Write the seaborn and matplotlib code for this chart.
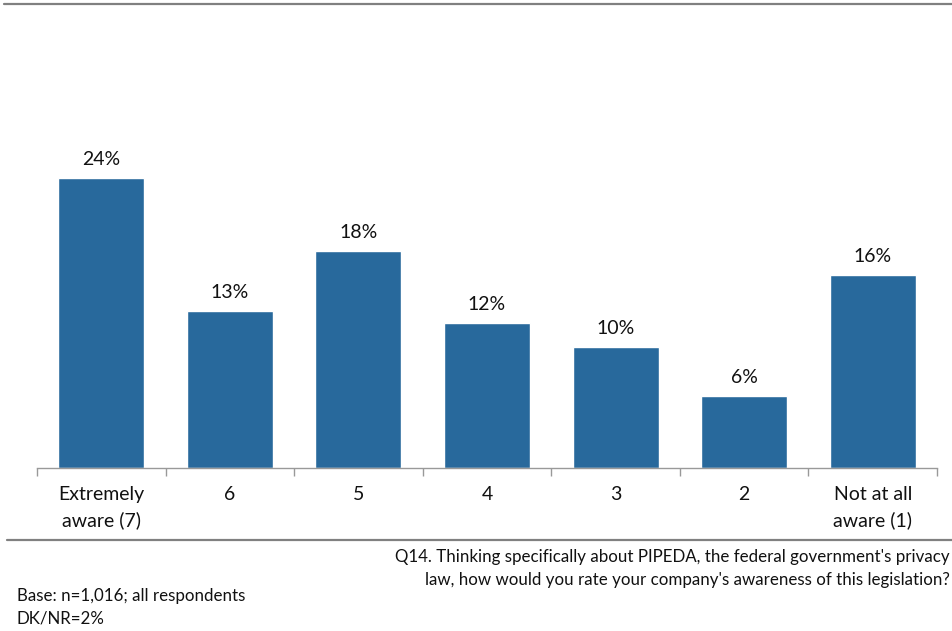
import matplotlib
matplotlib.use("Agg")
import matplotlib.pyplot as plt
import seaborn as sns
import pandas as pd
from matplotlib.lines import Line2D

# Survey responses: awareness of PIPEDA (7-point scale)
categories = ["Extremely\naware (7)", "6", "5", "4", "3", "2", "Not at all\naware (1)"]
percent = [24, 13, 18, 12, 10, 6, 16]
value_labels = ["24%", "13%", "18%", "12%", "10%", "6%", "16%"]

question = ("Q14. Thinking specifically about PIPEDA, the federal government's privacy\n"
            "law, how would you rate your company's awareness of this legislation?")
base_note = "Base: n=1,016; all respondents\nDK/NR=2%"

sns.set_style("white")
plt.rcParams["font.family"] = ["Lato", "DejaVu Sans"]

df = pd.DataFrame({"category": categories, "percent": percent})

W, H = 952, 631
fig = plt.figure(figsize=(W / 100, H / 100), dpi=100)
ax_left, ax_right = 37 / W, 937 / W
ax_bottom, ax_top = (H - 468) / H, (H - 40) / H
ax = fig.add_axes([ax_left, ax_bottom, ax_right - ax_left, ax_top - ax_bottom])

bar_color = "#28699C"
sns.barplot(data=df, x="category", y="percent", color=bar_color, width=0.67,
            saturation=1, ax=ax)

ax.set_xlim(-0.5, len(categories) - 0.5)
ax.set_ylim(0, 428 / 12.08)

for i, (v, lab) in enumerate(zip(percent, value_labels)):
    ax.annotate(lab, (i, v), xytext=(0, 7), textcoords="offset points",
                ha="center", va="bottom", fontsize=14, color="#111111")

# Category labels centred under bars; tick marks at category boundaries
ax.set_xticks([i - 0.5 for i in range(len(categories) + 1)])
ax.set_xticklabels([])
ax.tick_params(axis="x", which="major", length=6, color="#999999", width=1,
               direction="out", bottom=True)
ax.set_xticks(range(len(categories)), minor=True)
ax.set_xticklabels(categories, minor=True, fontsize=14, color="#111111",
                   linespacing=1.55)
ax.tick_params(axis="x", which="minor", length=0, pad=13)

ax.set_yticks([])
ax.set_xlabel("")
ax.set_ylabel("")
for side in ["top", "right", "left"]:
    ax.spines[side].set_visible(False)
ax.spines["bottom"].set_color("#999999")
ax.spines["bottom"].set_linewidth(1)

# Decorative rules at top and above the footnotes
fig.add_artist(Line2D([4 / W, 1], [1 - 4 / H, 1 - 4 / H], color="#808080",
                      linewidth=1.6, transform=fig.transFigure))
fig.add_artist(Line2D([7 / W, 1], [1 - 540 / H, 1 - 540 / H], color="#808080",
                      linewidth=1.6, transform=fig.transFigure))

fig.text(950 / W, 1 - 549 / H, question, ha="right", va="top",
         multialignment="right", fontsize=12.2, color="#111111", linespacing=1.55)
fig.text(17 / W, 1 - 588 / H, base_note, ha="left", va="top",
         fontsize=12.2, color="#111111", linespacing=1.5)

fig.savefig("out.png", dpi=100)
